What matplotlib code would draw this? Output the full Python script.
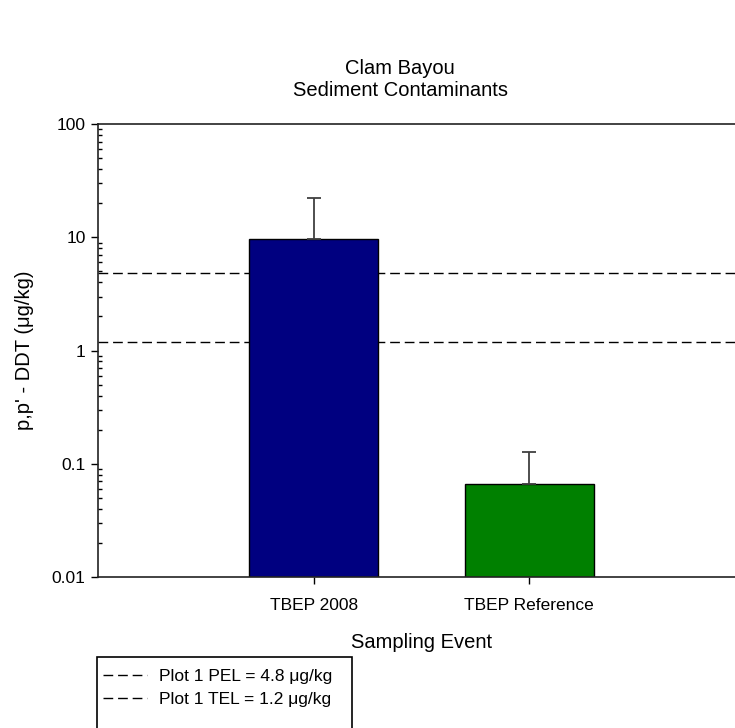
import matplotlib
matplotlib.use("Agg")
import matplotlib.pyplot as plt
from matplotlib.patches import Rectangle

plt.rcParams['font.family'] = ['Liberation Sans', 'DejaVu Sans']

# data
events = ["TBEP 2008", "TBEP Reference"]
ddt_mean = [9.6, 0.066]
ddt_err = [12.6, 0.061]
bar_colors = ["#000080", "#008000"]
pel = 4.8
tel = 1.2

fig = plt.figure(figsize=(7.35, 7.28), dpi=100)
ax = fig.add_axes([98 / 735, 1 - 576.7 / 728, (745 - 98) / 735, (576.7 - 124.3) / 728])

x = [1, 2]
ax.bar(x, ddt_mean, width=0.6, color=bar_colors, edgecolor="black", linewidth=1.0, zorder=2)
ax.errorbar(x, ddt_mean, yerr=[[0, 0], ddt_err], fmt="none", ecolor="#404040",
            elinewidth=1.3, capsize=4.7, capthick=1.3, zorder=3)

pel_line = ax.axhline(pel, color="black", linewidth=1.0, dashes=(7, 3.5), zorder=1)
tel_line = ax.axhline(tel, color="black", linewidth=1.0, dashes=(7, 3.5), zorder=1)

ax.set_yscale("log")
ax.set_ylim(0.01, 100)
ax.set_xlim(0, 3)
ax.set_xticks(x)
ax.set_xticklabels(events)
ax.set_yticks([0.01, 0.1, 1, 10, 100])
ax.set_yticklabels(["0.01", "0.1", "1", "10", "100"])

ax.spines["right"].set_visible(False)
for s in ["left", "top", "bottom"]:
    ax.spines[s].set_linewidth(1.2)
    ax.spines[s].set_color("#222222")

ax.tick_params(axis="both", which="major", direction="out", length=5, width=1.0, labelsize=12.5, pad=4)
ax.tick_params(axis="x", which="major", pad=10)
ax.tick_params(axis="y", which="minor", direction="in", length=3, width=1.0)
ax.tick_params(axis="x", which="minor", bottom=False)

ax.set_xlabel("Sampling Event", fontsize=14.5, labelpad=15)
ax.set_ylabel("p,p' - DDT (\u03bcg/kg)", fontsize=14.5, labelpad=13)

fig.text(400 / 735, 1 - 68 / 728, "Clam Bayou", ha="center", va="center", fontsize=14.5)
fig.text(400 / 735, 1 - 90 / 728, "Sediment Contaminants", ha="center", va="center", fontsize=14.5)

# legend box running off the bottom edge
fig.patches.append(Rectangle((97 / 735, -0.05), (352 - 97) / 735, 0.05 + (728 - 657) / 728,
                             transform=fig.transFigure, fill=False, edgecolor="black",
                             linewidth=1.2))
fig.legend([pel_line, tel_line],
           ["Plot 1 PEL = %.1f \u03bcg/kg" % pel, "Plot 1 TEL = %.1f \u03bcg/kg" % tel],
           loc="upper left", bbox_to_anchor=(100 / 735, 1 - 665 / 728), frameon=False,
           fontsize=12.5, handlelength=2.5, handletextpad=0.7, labelspacing=0.5,
           borderpad=0.2, borderaxespad=0)

fig.savefig("out.png", dpi=100)
